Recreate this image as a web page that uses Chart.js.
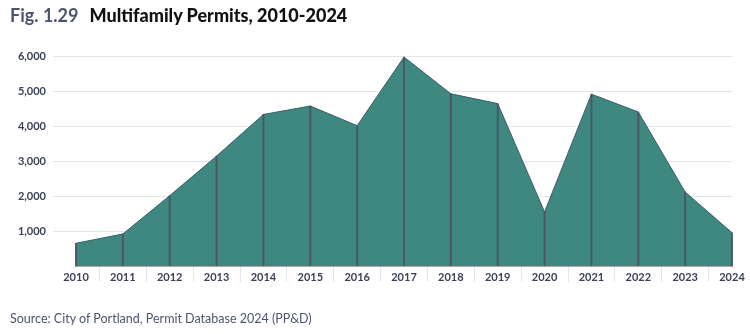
<!DOCTYPE html>
<html>
<head>
<meta charset="utf-8">
<script src="https://cdn.jsdelivr.net/npm/chart.js@4.4.1/dist/chart.umd.min.js"></script>
<style>
  html, body { margin: 0; padding: 0; background: #ffffff; }
  body { width: 750px; height: 334px; position: relative; overflow: hidden; font-family: Lato, "Open Sans", sans-serif; }
  #title { position: absolute; left: 10px; top: 4px; font-size: 18px; font-weight: 700; white-space: nowrap; }
  #title .fig { color: #4b5570; margin-right: 11px; }
  #title .name { color: #111111; font-weight: 900; }
  #source { position: absolute; left: 10px; top: 311px; font-size: 12.5px; color: #4b5570; white-space: nowrap; }
  #wrap { position: absolute; left: 0; top: 0; width: 750px; height: 334px; }
</style>
</head>
<body>
<div id="wrap"><canvas id="chart"></canvas></div>
<div id="title"><span class="fig">Fig. 1.29</span><span class="name">Multifamily Permits, 2010-2024</span></div>
<div id="source">Source: City of Portland, Permit Database 2024 (PP&amp;D)</div>
<script>
// Multifamily units permitted per year
const years = ['2010', '2011', '2012', '2013', '2014', '2015', '2016', '2017',
               '2018', '2019', '2020', '2021', '2022', '2023', '2024'];
const permits = [650, 915, 2010, 3140, 4330, 4570, 4010, 5970,
                 4920, 4640, 1545, 4910, 4400, 2115, 950];
const yTicks = [1000, 2000, 3000, 4000, 5000, 6000];

const teal = '#3e8880';
const slate = '#4b5563';
const gridColor = '#e4e4eb';
const labelColor = '#3a4258';

new Chart(document.getElementById('chart'), {
  data: {
    labels: years,
    datasets: [
      {
        type: 'bar',
        data: permits,
        backgroundColor: slate,
        barThickness: 1.2,
        grouped: false,
        order: 0,
        clip: false
      },
      {
        type: 'line',
        data: permits,
        borderColor: slate,
        borderWidth: 1,
        backgroundColor: teal,
        fill: 'origin',
        tension: 0,
        pointRadius: 0,
        order: 1
      }
    ]
  },
  options: {
    responsive: true,
    maintainAspectRatio: false,
    animation: false,
    events: [],
    layout: { padding: { top: 56, right: 18, bottom: 44, left: 0 } },
    plugins: { legend: { display: false }, tooltip: { enabled: false } },
    scales: {
      x: {
        type: 'category',
        offset: false,
        afterFit: (scale) => { scale.height = 24; },
        border: { display: true, color: slate, width: 1.5 },
        grid: {
          offset: true,
          drawOnChartArea: false,
          drawTicks: true,
          tickLength: 16,
          color: gridColor,
          lineWidth: 1
        },
        ticks: {
          padding: -11,
          color: labelColor,
          font: { family: 'Lato', size: 11, weight: 'bold' },
          maxRotation: 0,
          autoSkip: false
        }
      },
      y: {
        min: 0,
        max: 6000,
        afterFit: (scale) => { scale.width = 76; },
        afterBuildTicks: (scale) => {
          scale.ticks = [0].concat(yTicks).map(v => ({ value: v }));
        },
        border: { display: false },
        grid: {
          color: (ctx) => (ctx.tick && ctx.tick.value === 0) ? 'rgba(0,0,0,0)' : gridColor,
          lineWidth: 1,
          drawTicks: true,
          tickLength: 23
        },
        ticks: {
          padding: 7,
          color: labelColor,
          font: { family: 'Lato', size: 11, weight: 'bold' },
          callback: (v) => v === 0 ? '' : v.toLocaleString('en-US')
        }
      }
    }
  }
});
</script>
</body>
</html>
